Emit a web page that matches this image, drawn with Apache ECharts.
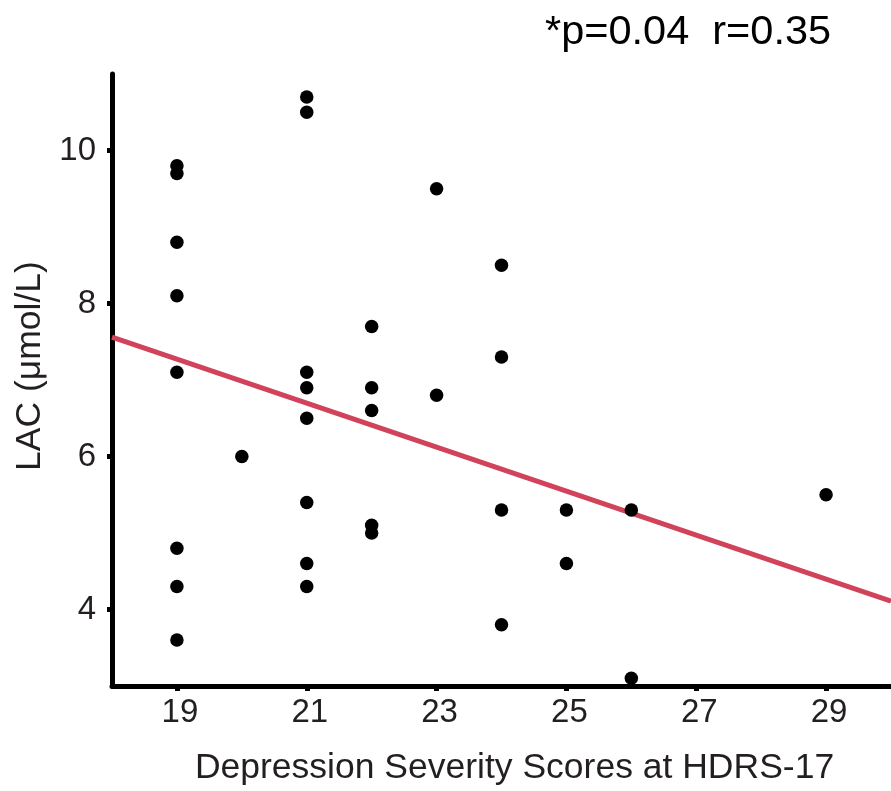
<!DOCTYPE html>
<html>
<head>
<meta charset="utf-8">
<script src="https://cdn.jsdelivr.net/npm/echarts@6/dist/echarts.min.js"></script>
<style>
  html, body { margin: 0; padding: 0; background: #fff; }
  #chart { width: 891px; height: 791px; }
</style>
</head>
<body>
<div id="chart"></div>
<script>
// scores (HDRS-17) and LAC values, one entry per patient
const scores = [19, 19, 19, 19, 19, 19, 19, 19,
  20,
  21, 21, 21, 21, 21, 21, 21, 21,
  22, 22, 22, 22, 22,
  23, 23,
  24, 24, 24, 24,
  25, 25,
  26, 26,
  29];
const lac = [9.8, 9.7, 8.8, 8.1, 7.1, 4.8, 4.3, 3.6,
  6.0,
  10.7, 10.5, 7.1, 6.9, 6.5, 5.4, 4.6, 4.3,
  7.7, 6.9, 6.6, 5.1, 5.0,
  9.5, 6.8,
  8.5, 7.3, 5.3, 3.8,
  5.3, 4.6,
  5.3, 3.1,
  5.5];

// fitted line at both ends of the x range
const fitX = [18, 30];
const fitY = [7.56, 4.11];

const xTicks = [19, 21, 23, 25, 27, 29];
const yTicks = [4, 6, 8, 10];

const textColor = '#231f20';
const font = 'Liberation Sans, Arial, sans-serif';

const points = scores.map((s, i) => [s, lac[i]]);
const fitLine = fitX.map((x, i) => [x, fitY[i]]);

const chart = echarts.init(document.getElementById('chart'));

chart.setOption({
  animation: false,
  title: {
    text: '*p=0.04  r=0.35',
    left: 540,
    top: 7,
    textStyle: { fontFamily: font, fontSize: 41.5, fontWeight: 'normal', color: '#000' },
  },
  grid: { left: 112, right: -4, top: 74, bottom: 102 },
  xAxis: {
    type: 'value',
    min: 18,
    max: 30,
    splitLine: { show: false },
    axisLine: { lineStyle: { color: '#000', width: 5 } },
    axisTick: { customValues: xTicks, length: 5, lineStyle: { color: '#000', width: 5 } },
    axisLabel: {
      customValues: xTicks,
      margin: 10,
      padding: [0, 0, 0, 6],
      fontFamily: font,
      fontSize: 33,
      color: textColor,
    },
    name: 'Depression Severity Scores at HDRS-17',
    nameLocation: 'middle',
    nameGap: 64,
    nameTextStyle: { fontFamily: font, fontSize: 35.5, color: textColor, padding: [0, 0, 0, 26] },
  },
  yAxis: {
    type: 'value',
    min: 3,
    max: 11,
    splitLine: { show: false },
    axisLine: { lineStyle: { color: '#000', width: 5 } },
    axisTick: { customValues: yTicks, length: 5, lineStyle: { color: '#000', width: 5 } },
    axisLabel: {
      customValues: yTicks,
      margin: 16,
      fontFamily: font,
      fontSize: 33,
      color: textColor,
    },
    name: 'LAC (μmol/L)',
    nameLocation: 'middle',
    nameRotate: 90,
    nameGap: 62,
    nameTextStyle: { fontFamily: font, fontSize: 35.5, color: textColor, padding: [0, 0, 0, 28] },
  },
  series: [
    {
      type: 'scatter',
      data: points,
      symbolSize: 13.5,
      itemStyle: { color: '#000', opacity: 1 },
      z: 3,
    },
    {
      type: 'line',
      data: fitLine,
      symbol: 'none',
      lineStyle: { color: '#d1435b', width: 5 },
      z: 2,
    },
  ],
});
</script>
</body>
</html>
